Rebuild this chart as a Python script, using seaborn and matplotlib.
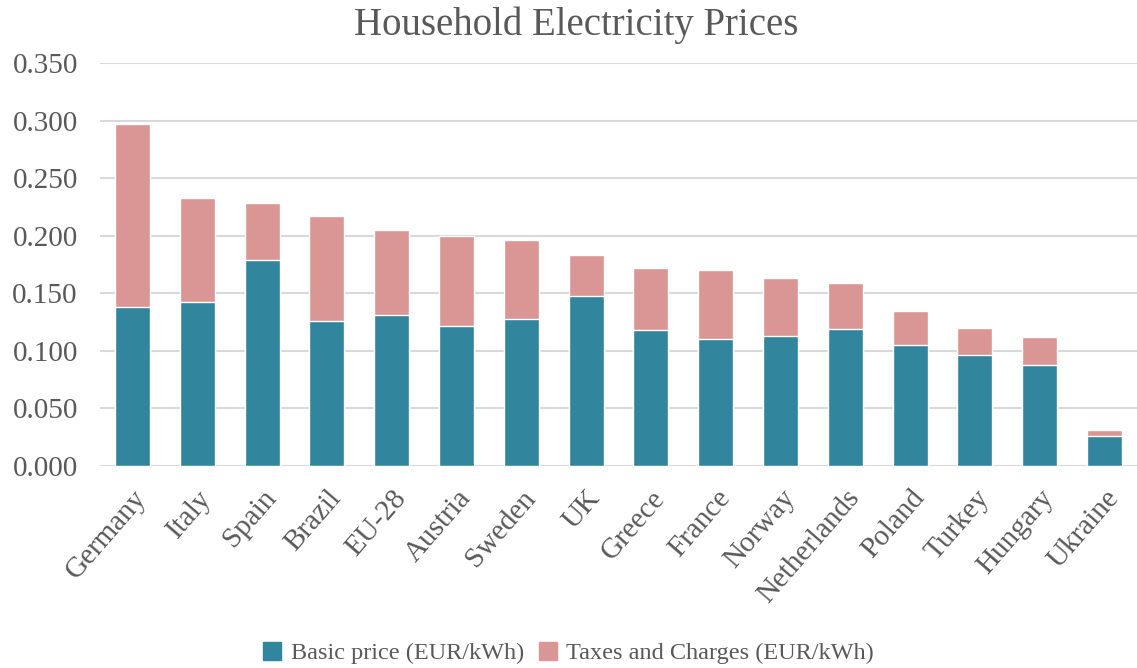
import matplotlib
matplotlib.use("Agg")
import matplotlib.pyplot as plt
import seaborn as sns
import numpy as np
import matplotlib.transforms as mtransforms
from matplotlib.patches import Patch

countries = ["Germany", "Italy", "Spain", "Brazil", "EU-28", "Austria", "Sweden", "UK",
             "Greece", "France", "Norway", "Netherlands", "Poland", "Turkey", "Hungary", "Ukraine"]
basic = [0.138, 0.142, 0.179, 0.126, 0.131, 0.122, 0.128, 0.148,
         0.118, 0.110, 0.113, 0.119, 0.105, 0.096, 0.088, 0.026]
taxes = [0.159, 0.091, 0.049, 0.091, 0.074, 0.078, 0.068, 0.035,
         0.054, 0.060, 0.050, 0.040, 0.030, 0.024, 0.024, 0.005]
yticks = [0.0, 0.05, 0.10, 0.15, 0.20, 0.25, 0.30, 0.35]

total = [b + t for b, t in zip(basic, taxes)]

TEAL = "#31859C"
PINK = "#D99694"
TXT = "#595959"

sns.set_theme(style="white")
plt.rcParams['font.family'] = ['Liberation Serif', 'DejaVu Serif']

fig = plt.figure(figsize=(11.37, 6.68), dpi=100)
ax = fig.add_axes([0.088, 0.3024, 0.912, 0.6033])

sns.barplot(x=countries, y=total, color=PINK, width=0.54, ax=ax, saturation=1)
sns.barplot(x=countries, y=basic, color=TEAL, width=0.54, ax=ax, saturation=1)

ax.set_ylim(0, 0.35)
ax.set_xlim(-0.5, len(countries) - 0.5)
ax.set_yticks(yticks)
ax.set_yticklabels([f"{v:.3f}" for v in yticks], fontsize=21, color=TXT)
ax.yaxis.grid(True, color="#D9D9D9", linewidth=1.5)
ax.set_axisbelow(True)
for s in ax.spines.values():
    s.set_visible(False)
ax.tick_params(axis="y", length=0, pad=16)
ax.tick_params(axis="x", length=0, pad=20)
ax.set_xticks(range(len(countries)))
ax.set_xticklabels(countries, rotation=49, ha="right", va="center",
                   rotation_mode="anchor", fontsize=21, color=TXT)
offset = mtransforms.ScaledTranslation(0.1, 0, fig.dpi_scale_trans)
for lab in ax.get_xticklabels():
    lab.set_transform(lab.get_transform() + offset)
ax.set_xlabel("")
ax.set_ylabel("")

fig.suptitle("Household Electricity Prices", x=0.507, y=0.99, fontsize=28, color=TXT)

handles = [Patch(color=TEAL, label="Basic price (EUR/kWh)"),
           Patch(color=PINK, label="Taxes and Charges (EUR/kWh)")]
fig.legend(handles=handles, loc="center", bbox_to_anchor=(0.5, 0.022), ncol=2,
           frameon=False, fontsize=17.5, labelcolor=TXT, handlelength=0.75,
           handleheight=0.75, handletextpad=0.4, columnspacing=0.6)

fig.savefig("out.png", dpi=100)
